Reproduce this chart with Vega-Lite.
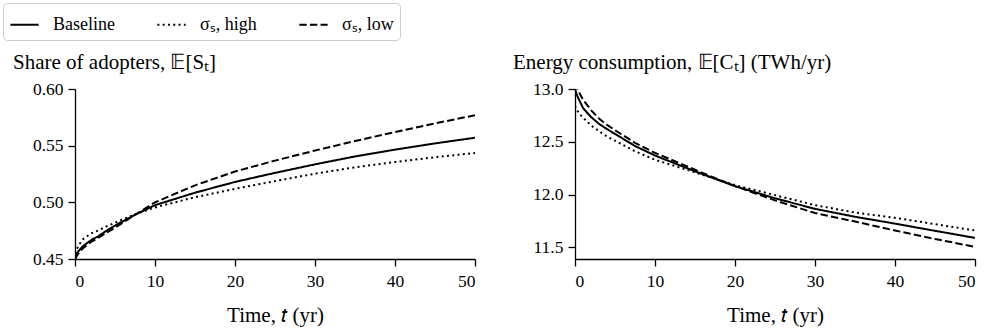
{
  "$schema": "https://vega.github.io/schema/vega-lite/v6.json",
  "padding": {"left": 2, "top": 2, "right": 5, "bottom": 2},
  "background": "white",
  "datasets": {
    "share": [
      {"t": 0, "series": "Baseline", "v": 0.45}, {"t": 0.25, "series": "Baseline", "v": 0.455}, {"t": 0.5, "series": "Baseline", "v": 0.4575}, {"t": 1, "series": "Baseline", "v": 0.4615}, {"t": 2, "series": "Baseline", "v": 0.4665}, {"t": 3, "series": "Baseline", "v": 0.4705}, {"t": 4, "series": "Baseline", "v": 0.4752}, {"t": 5, "series": "Baseline", "v": 0.4795}, {"t": 7.5, "series": "Baseline", "v": 0.489}, {"t": 10, "series": "Baseline", "v": 0.4975}, {"t": 15, "series": "Baseline", "v": 0.5085}, {"t": 20, "series": "Baseline", "v": 0.518}, {"t": 25, "series": "Baseline", "v": 0.526}, {"t": 30, "series": "Baseline", "v": 0.5335}, {"t": 35, "series": "Baseline", "v": 0.5405}, {"t": 40, "series": "Baseline", "v": 0.5465}, {"t": 45, "series": "Baseline", "v": 0.552}, {"t": 50, "series": "Baseline", "v": 0.557},
      {"t": 0, "series": "σₛ, high", "v": 0.45}, {"t": 0.25, "series": "σₛ, high", "v": 0.459}, {"t": 0.5, "series": "σₛ, high", "v": 0.4625}, {"t": 1, "series": "σₛ, high", "v": 0.4675}, {"t": 2, "series": "σₛ, high", "v": 0.4725}, {"t": 3, "series": "σₛ, high", "v": 0.4755}, {"t": 4, "series": "σₛ, high", "v": 0.479}, {"t": 5, "series": "σₛ, high", "v": 0.482}, {"t": 7.5, "series": "σₛ, high", "v": 0.4895}, {"t": 10, "series": "σₛ, high", "v": 0.4955}, {"t": 15, "series": "σₛ, high", "v": 0.5045}, {"t": 20, "series": "σₛ, high", "v": 0.5119}, {"t": 25, "series": "σₛ, high", "v": 0.5187}, {"t": 30, "series": "σₛ, high", "v": 0.5253}, {"t": 35, "series": "σₛ, high", "v": 0.5309}, {"t": 40, "series": "σₛ, high", "v": 0.5356}, {"t": 45, "series": "σₛ, high", "v": 0.5398}, {"t": 50, "series": "σₛ, high", "v": 0.5435},
      {"t": 0, "series": "σₛ, low", "v": 0.45}, {"t": 0.25, "series": "σₛ, low", "v": 0.453}, {"t": 0.5, "series": "σₛ, low", "v": 0.4555}, {"t": 1, "series": "σₛ, low", "v": 0.4595}, {"t": 2, "series": "σₛ, low", "v": 0.465}, {"t": 3, "series": "σₛ, low", "v": 0.469}, {"t": 4, "series": "σₛ, low", "v": 0.4735}, {"t": 5, "series": "σₛ, low", "v": 0.4775}, {"t": 7.5, "series": "σₛ, low", "v": 0.489}, {"t": 10, "series": "σₛ, low", "v": 0.5}, {"t": 15, "series": "σₛ, low", "v": 0.515}, {"t": 20, "series": "σₛ, low", "v": 0.5272}, {"t": 25, "series": "σₛ, low", "v": 0.5368}, {"t": 30, "series": "σₛ, low", "v": 0.5457}, {"t": 35, "series": "σₛ, low", "v": 0.5541}, {"t": 40, "series": "σₛ, low", "v": 0.562}, {"t": 45, "series": "σₛ, low", "v": 0.5696}, {"t": 50, "series": "σₛ, low", "v": 0.5769}
    ],
    "energy": [
      {"t": 0, "series": "Baseline", "v": 13.0}, {"t": 0.25, "series": "Baseline", "v": 12.94}, {"t": 0.5, "series": "Baseline", "v": 12.9}, {"t": 1, "series": "Baseline", "v": 12.82}, {"t": 2, "series": "Baseline", "v": 12.735}, {"t": 3, "series": "Baseline", "v": 12.67}, {"t": 4, "series": "Baseline", "v": 12.62}, {"t": 5, "series": "Baseline", "v": 12.575}, {"t": 7.5, "series": "Baseline", "v": 12.46}, {"t": 10, "series": "Baseline", "v": 12.37}, {"t": 15, "series": "Baseline", "v": 12.22}, {"t": 20, "series": "Baseline", "v": 12.08}, {"t": 25, "series": "Baseline", "v": 11.965}, {"t": 30, "series": "Baseline", "v": 11.865}, {"t": 35, "series": "Baseline", "v": 11.79}, {"t": 40, "series": "Baseline", "v": 11.725}, {"t": 45, "series": "Baseline", "v": 11.657}, {"t": 50, "series": "Baseline", "v": 11.59},
      {"t": 0, "series": "σₛ, high", "v": 12.84}, {"t": 0.25, "series": "σₛ, high", "v": 12.8}, {"t": 0.5, "series": "σₛ, high", "v": 12.77}, {"t": 1, "series": "σₛ, high", "v": 12.73}, {"t": 2, "series": "σₛ, high", "v": 12.655}, {"t": 3, "series": "σₛ, high", "v": 12.6}, {"t": 4, "series": "σₛ, high", "v": 12.55}, {"t": 5, "series": "σₛ, high", "v": 12.51}, {"t": 7.5, "series": "σₛ, high", "v": 12.41}, {"t": 10, "series": "σₛ, high", "v": 12.33}, {"t": 15, "series": "σₛ, high", "v": 12.21}, {"t": 20, "series": "σₛ, high", "v": 12.09}, {"t": 25, "series": "σₛ, high", "v": 11.995}, {"t": 30, "series": "σₛ, high", "v": 11.9}, {"t": 35, "series": "σₛ, high", "v": 11.83}, {"t": 40, "series": "σₛ, high", "v": 11.78}, {"t": 45, "series": "σₛ, high", "v": 11.72}, {"t": 50, "series": "σₛ, high", "v": 11.66},
      {"t": 0, "series": "σₛ, low", "v": 13.06}, {"t": 0.25, "series": "σₛ, low", "v": 13.01}, {"t": 0.5, "series": "σₛ, low", "v": 12.97}, {"t": 1, "series": "σₛ, low", "v": 12.9}, {"t": 2, "series": "σₛ, low", "v": 12.8}, {"t": 3, "series": "σₛ, low", "v": 12.72}, {"t": 4, "series": "σₛ, low", "v": 12.66}, {"t": 5, "series": "σₛ, low", "v": 12.61}, {"t": 7.5, "series": "σₛ, low", "v": 12.49}, {"t": 10, "series": "σₛ, low", "v": 12.395}, {"t": 15, "series": "σₛ, low", "v": 12.235}, {"t": 20, "series": "σₛ, low", "v": 12.08}, {"t": 25, "series": "σₛ, low", "v": 11.945}, {"t": 30, "series": "σₛ, low", "v": 11.825}, {"t": 35, "series": "σₛ, low", "v": 11.745}, {"t": 40, "series": "σₛ, low", "v": 11.66}, {"t": 45, "series": "σₛ, low", "v": 11.58}, {"t": 50, "series": "σₛ, low", "v": 11.505}
    ]
  },
  "hconcat": [
    {
      "width": 400,
      "height": 170,
      "title": "Share of adopters, 𝔼[Sₜ]",
      "data": {"name": "share"},
      "mark": {"type": "line", "strokeWidth": 2, "color": "black", "clip": true},
      "encoding": {
        "x": {"field": "t", "type": "quantitative", "scale": {"domain": [0, 50], "nice": false}, "axis": {"values": [0, 10, 20, 30, 40, 50], "title": "Time, 𝑡 (yr)", "labelPadding": 6, "titlePadding": 15}},
        "y": {"field": "v", "type": "quantitative", "scale": {"domain": [0.45, 0.6], "nice": false, "zero": false}, "axis": {"values": [0.45, 0.5, 0.55, 0.6], "format": ".2f", "title": null}},
        "strokeDash": {
          "field": "series", "type": "nominal",
          "scale": {"domain": ["Baseline", "σₛ, high", "σₛ, low"], "range": [[1, 0], [2, 3.3], [7.4, 3.2]]}
        }
      }
    },
    {
      "width": 400,
      "height": 170,
      "title": "Energy consumption, 𝔼[Cₜ] (TWh/yr)",
      "data": {"name": "energy"},
      "mark": {"type": "line", "strokeWidth": 2, "color": "black", "clip": true},
      "encoding": {
        "x": {"field": "t", "type": "quantitative", "scale": {"domain": [0, 50], "nice": false}, "axis": {"values": [0, 10, 20, 30, 40, 50], "title": "Time, 𝑡 (yr)", "labelPadding": 6, "titlePadding": 15}},
        "y": {"field": "v", "type": "quantitative", "scale": {"domain": [11.39, 13.0], "nice": false, "zero": false}, "axis": {"values": [11.5, 12.0, 12.5, 13.0], "format": ".1f", "title": null}},
        "strokeDash": {
          "field": "series", "type": "nominal",
          "scale": {"domain": ["Baseline", "σₛ, high", "σₛ, low"], "range": [[1, 0], [2, 3.3], [7.4, 3.2]]}
        }
      }
    }
  ],
  "spacing": 100,
  "bounds": "flush",
  "config": {
    "font": "Liberation Serif",
    "view": {"stroke": null},
    "legend": {
      "orient": "none", "legendX": -72, "legendY": -86, "direction": "horizontal", "columns": 3, "title": null,
      "symbolType": "stroke", "symbolSize": 800, "symbolStrokeWidth": 2, "symbolStrokeColor": "black",
      "labelFontSize": 18, "labelFont": "Liberation Serif", "labelColor": "black", "labelOffset": 13,
      "columnPadding": 38, "padding": 6, "strokeColor": "#cccccc", "cornerRadius": 4, "fillColor": "white"
    },
    "axis": {
      "grid": false, "domainColor": "black", "domainWidth": 1.3, "tickColor": "black", "tickWidth": 1.3, "tickSize": 7,
      "labelFont": "Liberation Serif", "labelFontSize": 17.5, "labelColor": "black", "labelPadding": 5,
      "titleFont": "Liberation Serif", "titleFontSize": 21, "titleFontWeight": "normal", "titleColor": "black", "titlePadding": 8
    },
    "title": {"anchor": "start", "frame": "group", "fontSize": 21, "font": "Liberation Serif", "fontWeight": "normal", "color": "black", "dx": -62, "offset": 7}
  }
}
